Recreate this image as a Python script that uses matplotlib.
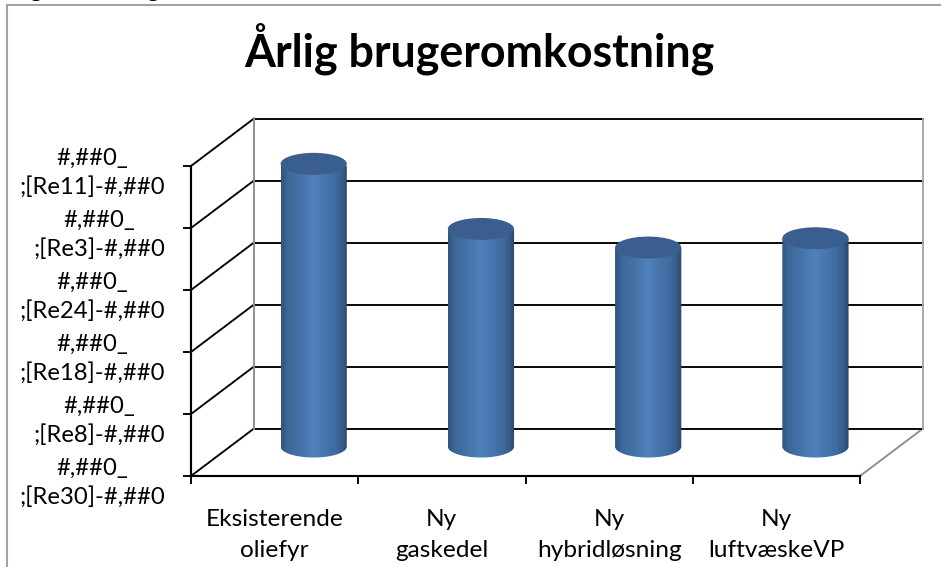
import matplotlib
matplotlib.use("Agg")
import matplotlib.pyplot as plt
import numpy as np
from matplotlib.colors import LinearSegmentedColormap
from matplotlib.patches import Ellipse, PathPatch
from matplotlib.path import Path
from matplotlib.transforms import Affine2D

categories = ["Eksisterende\noliefyr", "Ny\ngaskedel", "Ny\nhybridløsning", "Ny\nluftvæskeVP"]
values = [4.56, 3.51, 3.21, 3.36]
y_ticks = [0, 1, 2, 3, 4, 5]
y_labels = ["#,##0_\n;[Re30]-#,##0", "#,##0_\n;[Re8]-#,##0", "#,##0_\n;[Re18]-#,##0",
            "#,##0_\n;[Re24]-#,##0", "#,##0_\n;[Re3]-#,##0", "#,##0_\n;[Re11]-#,##0"]
title = "Årlig brugeromkostning"

W, H = 941, 567
LW = 1.35
plt.rcParams["font.family"] = ["Lato", "DejaVu Sans"]
fig = plt.figure(figsize=(W / 100, H / 100), dpi=100)
bg = fig.add_axes([0, 0, 1, 1]); bg.set_xlim(0, W); bg.set_ylim(H, 0); bg.axis("off")
bg.plot([7.5, 7.5, W], [H, 4.5, 4.5], color="#a3a3a3", lw=1.5, solid_capstyle="butt")
for gx in [36, 153]:
    bg.text(gx, -3, "g", ha="center", va="baseline", fontsize=17.5, clip_on=True)

L, R, B, T = 191, 860, 476, 166
ax = fig.add_axes([L / W, 1 - B / H, (R - L) / W, (B - T) / H])
nx = len(categories)
ax.set_xlim(0, nx); ax.set_ylim(0, 5)
ax.patch.set_alpha(0)
for s in ["top", "right"]:
    ax.spines[s].set_visible(False)
for s in ["left", "bottom"]:
    ax.spines[s].set_linewidth(LW + 0.2); ax.spines[s].set_color("black")
    ax.spines[s].set_zorder(1)

dx, dy = 63, 47.5   # depth of the 3-D box, pixels
def depth(f):
    return ax.transData + Affine2D().translate(dx * f, dy * f)
back = depth(1)
for v in y_ticks:
    ax.plot([0, nx], [v, v], transform=back, color="black", lw=LW, clip_on=False, zorder=1)
    y0 = B - (B - T) * v / 5
    bg.plot([L, L + dx], [y0, y0 - dy], color="black", lw=LW, zorder=2)
ax.plot([0, 0], [0, 5], transform=back, color="#8c8c8c", lw=LW, clip_on=False, zorder=1.2)
ax.plot([nx, nx], [0, 5], transform=back, color="#a6a6a6", lw=LW, clip_on=False, zorder=1.2)
bg.plot([R, R + dx], [B, B - dy], color="#8c8c8c", lw=LW, zorder=2)

ax.set_xticks(range(nx + 1)); ax.set_xticklabels([])
ax.set_yticks(y_ticks); ax.set_yticklabels(y_labels)
ax.tick_params(axis="y", length=5.8, width=LW, pad=13, labelsize=17.2)
ax.tick_params(axis="x", length=5.8, width=LW)
for lab in ax.get_yticklabels():
    lab.set_multialignment("center")
    lab.set_linespacing(1.42)
    lab.set_transform(lab.get_transform() + Affine2D().translate(0, -1))

for i, c in enumerate(categories):
    ax.annotate(c, (i + 0.5, 0), xytext=(0, -23.5), textcoords="offset points",
                ha="center", va="top", fontsize=17.6, linespacing=1.62, annotation_clip=False)

cmap = LinearSegmentedColormap.from_list("cyl", [(0, "#2f5480"), (0.1, "#3c6798"), (0.5, "#4f81bd"),
                                                  (0.82, "#3f6b9e"), (0.93, "#345a88"), (1, "#2a4567")])
grad = np.linspace(0, 1, 256).reshape(1, -1)
tr = depth(0.62)
hw, eh = 0.198, 0.177
for i, v in enumerate(values):
    cx = i + 0.5
    th = np.linspace(np.pi, 2 * np.pi, 40)
    xs = np.r_[cx - hw, cx + hw * np.cos(th), cx + hw]
    ys = np.r_[v, eh * np.sin(th), v]
    clip = PathPatch(Path(np.c_[xs, ys]), transform=tr, fc="none", ec="none")
    ax.add_patch(clip)
    im = ax.imshow(grad, extent=[cx - hw, cx + hw, -eh, v], aspect="auto", cmap=cmap,
                   transform=tr, zorder=3, interpolation="bilinear")
    im.set_clip_path(clip)
    ax.add_patch(Ellipse((cx, v), 2 * hw, 2 * eh, transform=tr, fc="#3a5f8e", ec="none", zorder=4, clip_on=False))
ax.set_xlim(0, nx); ax.set_ylim(0, 5)

fig.text(479 / W, 1 - 49 / H, title, ha="center", va="center", fontsize=32.2, fontweight="bold", color="black")
fig.savefig("out.png", dpi=100)
